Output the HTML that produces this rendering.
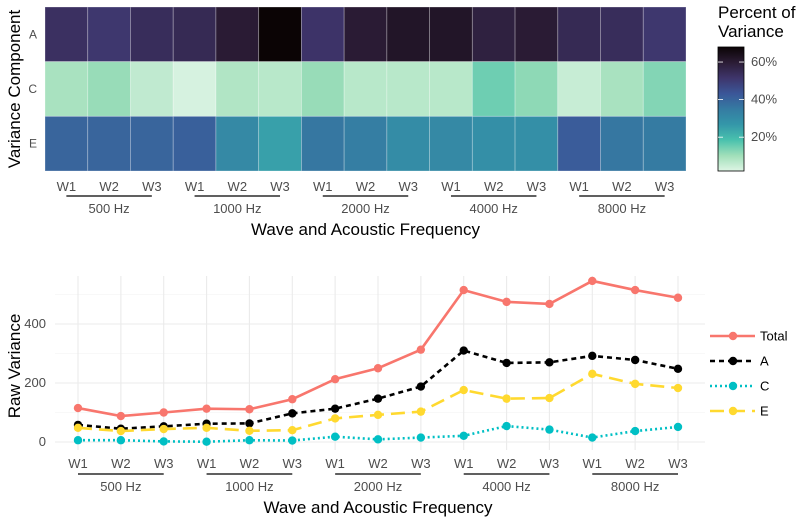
<!DOCTYPE html>
<html><head><meta charset="utf-8"><style>
body{margin:0;background:#fff;width:800px;height:518px;overflow:hidden}
svg{font-family:"Liberation Sans",sans-serif}
</style></head><body>
<svg id="chart" width="800" height="518" xmlns="http://www.w3.org/2000/svg">
<defs><linearGradient id="mako" x1="0" y1="1" x2="0" y2="0">
<stop offset="0" stop-color="#DEF5E5"/><stop offset="0.125" stop-color="#A0DFB9"/><stop offset="0.25" stop-color="#49C1AD"/><stop offset="0.375" stop-color="#3497A9"/><stop offset="0.5" stop-color="#357BA2"/><stop offset="0.625" stop-color="#3B5698"/><stop offset="0.75" stop-color="#3E356B"/><stop offset="0.875" stop-color="#2B1C35"/><stop offset="1" stop-color="#0B0405"/>
</linearGradient></defs>
<g id="heat"></g>
<g id="line"></g>
</svg>
<script>
const waves=["W1","W2","W3"];
const freqs=["500 Hz","1000 Hz","2000 Hz","4000 Hz","8000 Hz"];
const components=["A","C","E"];
const pctA=[53,51,54,55,60,68,52,60,62,62,58,60,55,54,51];
const pctC=[9,11,6,3,8,7,11,7,7,7,15,12,5,9,13];
const pctE=[40,40,40,41,31,25,36,34,30,31,29,29,42,36,35];
const colorTicks=[20,40,60];
const seriesNames=["Total","A","C","E"];
const rawTotal=[115,88,100,113,111,145,213,250,313,515,475,468,546,515,489];
const rawA=[58,45,53,62,63,97,113,147,188,310,268,270,292,278,248];
const rawC=[6,6,2,1,6,5,18,9,15,21,54,42,15,37,51];
const rawE=[48,37,44,48,38,40,80,92,103,176,147,149,231,197,183];
const yTicks=[0,200,400];

const NS="http://www.w3.org/2000/svg";
function mk(p,t,a,txt){const e=document.createElementNS(NS,t);for(const k in a)e.setAttribute(k,a[k]);if(txt!=null)e.textContent=txt;p.appendChild(e);return e;}
const stops=[[0,[0xDE,0xF5,0xE5]],[.125,[0xA0,0xDF,0xB9]],[.25,[0x49,0xC1,0xAD]],[.375,[0x34,0x97,0xA9]],[.5,[0x35,0x7B,0xA2]],[.625,[0x3B,0x56,0x98]],[.75,[0x3E,0x35,0x6B]],[.875,[0x2B,0x1C,0x35]],[1,[0x0B,0x04,0x05]]];
const cmin=2,cmax=68;
function color(v){let t=Math.max(0,Math.min(1,(v-cmin)/(cmax-cmin)));for(let i=1;i<stops.length;i++){if(t<=stops[i][0]){const a=stops[i-1],b=stops[i],f=(t-a[0])/(b[0]-a[0]);return "rgb("+a[1].map((c,j)=>Math.round(c+(b[1][j]-c)*f)).join(",")+")";}}return "#0B0405";}

// heatmap
const H=document.getElementById("heat");
const hx0=45,hx1=686,hy0=7,hy1=171,cw=(hx1-hx0)/15,rh=(hy1-hy0)/3;
const hx=i=>hx0+cw*i;
const rows=[pctA,pctC,pctE];
rows.forEach((arr,r)=>{arr.forEach((v,i)=>{const c=mk(H,"rect",{x:hx(i),y:hy0+r*rh,width:cw,height:rh,fill:color(v),stroke:"#ffffff","stroke-opacity":0.35,"stroke-width":0.8});

});
const l=mk(H,"text",{x:37,y:hy0+(r+0.5)*rh+4,"text-anchor":"end","font-size":12,fill:"#4d4d4d"},components[r]);

});
function xAxis(G,x,yt,yb,yg,yT,pref){for(let i=0;i<15;i++){const t=mk(G,"text",{x:x(i),y:yt,"text-anchor":"middle","font-size":13,fill:"#4d4d4d"},waves[i%3]);

}
freqs.forEach((f,g)=>{const ln=mk(G,"line",{x1:x(g*3),x2:x(g*3+2),y1:yb,y2:yb,stroke:"#000","stroke-width":1.2});


const t=mk(G,"text",{x:x(g*3+1),y:yg,"text-anchor":"middle","font-size":13,fill:"#4d4d4d"},f);

});
const tt=mk(G,"text",{x:(x(0)+x(14))/2,y:yT,"text-anchor":"middle","font-size":17,fill:"#000"},"Wave and Acoustic Frequency");

}
xAxis(H,i=>hx(i)+cw/2,191,196,213,235,"heat");
let yt=mk(H,"text",{x:0,y:0,transform:"translate(20,89) rotate(-90)","text-anchor":"middle","font-size":17,fill:"#000"},"Variance Component");


// colorbar
const cb0=47,cb1=171;const cy=v=>cb1-(v-cmin)/(cmax-cmin)*(cb1-cb0);
let lt=mk(H,"text",{x:718,y:18,"font-size":17,fill:"#000"},"Percent of");
lt=mk(H,"text",{x:718,y:37,"font-size":17,fill:"#000"},"Variance");
const cbr=mk(H,"rect",{x:718,y:cb0,width:26,height:cb1-cb0,fill:"url(#mako)",stroke:"#000","stroke-width":0.8});

colorTicks.forEach(v=>{mk(H,"line",{x1:718,x2:723,y1:cy(v),y2:cy(v),stroke:"#fff","stroke-width":0.8});mk(H,"line",{x1:739,x2:744,y1:cy(v),y2:cy(v),stroke:"#fff","stroke-width":0.8});
const t=mk(H,"text",{x:751,y:cy(v)+4,"font-size":13,fill:"#4d4d4d"},v+"%");
});

// line chart
const L=document.getElementById("line");
const px0=55,px1=705,py0=276,py1=450;
const lx=i=>78+i*(678-78)/14;
const ly=v=>442-v*0.295;
[100,300,500].forEach(v=>mk(L,"line",{x1:px0,x2:px1,y1:ly(v),y2:ly(v),stroke:"#f2f2f2","stroke-width":0.6}));
yTicks.forEach(v=>{mk(L,"line",{x1:px0,x2:px1,y1:ly(v),y2:ly(v),stroke:"#ebebeb","stroke-width":1.1});
const t=mk(L,"text",{x:46,y:ly(v)+4,"text-anchor":"end","font-size":13,fill:"#4d4d4d"},v);
});
for(let i=0;i<15;i++)mk(L,"line",{x1:lx(i),x2:lx(i),y1:py0,y2:py1,stroke:"#ebebeb","stroke-width":1.1});
const sData=[rawTotal,rawA,rawC,rawE];
const sCol=["#F8766D","#000000","#00BFC4","#FFD92F"];
const sDash=["","5,4","2,3","14,7"];
sData.forEach((arr,s)=>{const pts=arr.map((v,i)=>lx(i)+","+ly(v)).join(" ");
const pl=mk(L,"polyline",{points:pts,fill:"none",stroke:sCol[s],"stroke-width":2.6,"stroke-dasharray":sDash[s]});

arr.forEach((v,i)=>{const c=mk(L,"circle",{cx:lx(i),cy:ly(v),r:4.2,fill:sCol[s]});
});
const ly0=336+s*25;
const lg=mk(L,"g",{});
mk(lg,"line",{x1:710,x2:755,y1:ly0,y2:ly0,stroke:sCol[s],"stroke-width":2.6,"stroke-dasharray":sDash[s]});
mk(lg,"circle",{cx:733,cy:ly0,r:4.2,fill:sCol[s]});
mk(lg,"text",{x:760,y:ly0+4.5,"font-size":13,fill:"#000"},seriesNames[s]);});
xAxis(L,lx,468,474,491,513,"line");
yt=mk(L,"text",{x:0,y:0,transform:"translate(20,366) rotate(-90)","text-anchor":"middle","font-size":17,fill:"#000"},"Raw Variance");

</script>
</body></html>
